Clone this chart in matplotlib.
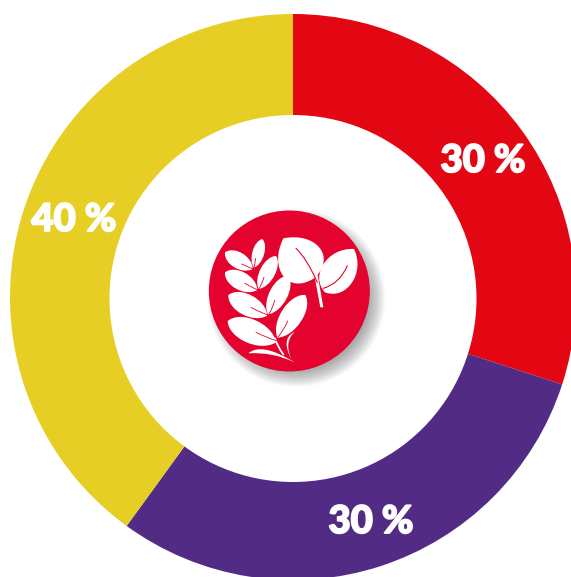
import matplotlib.pyplot as plt
import matplotlib.patheffects as pe
from matplotlib.patches import Circle, PathPatch, Polygon
from matplotlib.path import Path
import numpy as np

# ------------------------------------------------------------
# DATA
# ------------------------------------------------------------
shares = [30, 30, 40]
labels = ["30 %", "30 %", "40 %"]
colors = ["#E30613", "#522B84", "#E6CE25"]

W, H = 571, 577
fig = plt.figure(figsize=(W / 100, H / 100), dpi=100)
ax = fig.add_axes([0, 0, 1, 1])

# ------------------------------------------------------------
# DONUT (axes units = pixels)
# the hole sits slightly lower than the centre of the outer ring
# ------------------------------------------------------------
cx, cy, R = 293, H - 297, 283

ax.pie(shares, colors=colors, startangle=90, counterclock=False, center=(cx, cy),
       radius=R, frame=True, wedgeprops=dict(linewidth=0))
ax.add_patch(Circle((293, H - 298.5), 183.5, fc="white", ec="none", zorder=2))

label_pos = [(483, 161), (371, 522), (74, 220)]
for (x, y), s in zip(label_pos, labels):
    ax.text(x, H - y, s, color="white", fontsize=27.5, family="Lato", weight=900,
            ha="center", va="center", zorder=7,
            path_effects=[pe.withStroke(linewidth=1.3, foreground="white")])


# ------------------------------------------------------------
# ICON, measured in a 3x crop starting at (190, 195)
# ------------------------------------------------------------
def pt(x, y):
    return 190 + x / 3, H - (195 + y / 3)


def leaf(base, tip, width, belly=0.5, color="white", fat=0.7):
    b, t = np.array(base, float), np.array(tip, float)
    d = t - b
    n = np.array([-d[1], d[0]]) / np.hypot(*d)
    w = width * fat
    c1 = b + d * (belly - 0.3) + n * w
    c2 = b + d * (belly + 0.35) + n * w
    c3 = b + d * (belly + 0.35) - n * w
    c4 = b + d * (belly - 0.3) - n * w
    verts = [pt(*p) for p in (b, c1, c2, t, c3, c4, b)]
    codes = [Path.MOVETO] + [Path.CURVE4] * 6
    ax.add_patch(PathPatch(Path(verts, codes), fc=color, ec="none", zorder=5))


def curve(points, color="white", lw=1.0):
    verts = [pt(*p) for p in points]
    codes = [Path.MOVETO] + [Path.CURVE3] * (len(points) - 1)
    ax.add_patch(PathPatch(Path(verts, codes), fc="none", ec=color, lw=lw,
                           capstyle="round", zorder=6))


# soft shadow
sx, sy = pt(298, 288)
for i in range(24):
    ax.add_patch(Circle((sx + 7, sy - 7), 89 - i * 0.7, fc="#555555", ec="none",
                        alpha=0.024, zorder=3))
ax.add_patch(Circle((sx, sy), 80.5, fc="#E4032E", ec="none", zorder=4))

# fern on the left: base, tip, width
fern = [
    ((188, 222), (105, 172), 46), ((192, 218), (217, 132), 34),
    ((202, 285), (105, 232), 52), ((206, 282), (258, 183), 44),
    ((232, 362), (115, 300), 60), ((234, 358), (295, 242), 52),
    ((258, 442), (113, 378), 68), ((262, 428), (346, 300), 62),
]
for base, tip, width in fern:
    leaf(base, tip, width)

# two big leaves on the right
leaf((372, 250), (280, 130), 115, belly=0.35, fat=0.8)
leaf((405, 292), (492, 162), 85, belly=0.4, fat=0.8)

# stem of the right leaves
ax.add_patch(Polygon([pt(372, 235), pt(382, 235), pt(400, 337), pt(391, 337)],
                     fc="white", ec="none", zorder=6))

# foot of the fern
foot = [(175, 475), (215, 440), (315, 503), (250, 470), (175, 475)]
ax.add_patch(PathPatch(Path([pt(*p) for p in foot],
                            [Path.MOVETO, Path.CURVE3, Path.CURVE3, Path.CURVE3, Path.CURVE3]),
                       fc="white", ec="none", zorder=6))
hook = [(315, 410), (270, 430), (305, 495), (280, 440), (315, 410)]
ax.add_patch(PathPatch(Path([pt(*p) for p in hook],
                            [Path.MOVETO, Path.CURVE3, Path.CURVE3, Path.CURVE3, Path.CURVE3]),
                       fc="white", ec="none", zorder=6))
curve([(255, 430), (262, 455), (280, 478)], lw=1.3)

# red veins
vein = "#E4032E"
curve([(318, 160), (350, 190), (382, 262)], vein, 0.8)
curve([(400, 280), (450, 265), (472, 212)], vein, 0.8)
curve([(155, 207), (172, 215), (190, 222)], vein, 0.6)
curve([(197, 190), (195, 205), (192, 218)], vein, 0.6)
curve([(165, 265), (185, 277), (204, 285)], vein, 0.6)
curve([(222, 247), (216, 265), (207, 282)], vein, 0.6)
curve([(183, 337), (210, 352), (234, 360)], vein, 0.6)
curve([(254, 316), (248, 340), (237, 357)], vein, 0.6)
curve([(198, 412), (230, 428), (259, 437)], vein, 0.6)
curve([(293, 378), (282, 405), (264, 426)], vein, 0.6)

ax.set_xlim(0, W)
ax.set_ylim(0, H)
ax.set_aspect("auto")
ax.axis("off")

fig.savefig("out.png", dpi=100, facecolor="white")
